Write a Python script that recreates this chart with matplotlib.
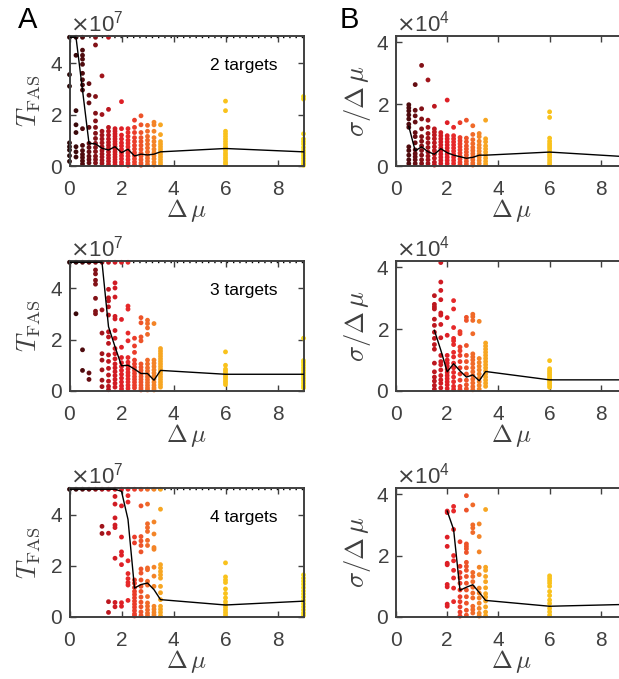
import numpy as np
import matplotlib
matplotlib.use("Agg")
import matplotlib.pyplot as plt
from matplotlib.ticker import ScalarFormatter

plt.rcParams['font.family'] = ['Liberation Sans', 'DejaVu Sans']
plt.rcParams['mathtext.fontset'] = 'cm'

nan = np.nan
DMU = [0.0, 0.25, 0.5, 0.75, 1.0, 1.25, 1.5, 1.75, 2.0, 2.25, 2.5, 2.75, 3.0, 3.25, 3.5, 6.0, 9.0]
COLORS = ['#2a0808', '#3a090b', '#4e0b0e', '#650d12', '#821117', '#a0141b', '#bc171f', '#d01b23',
          '#de1f26', '#e6292a', '#ea3c2a', '#ed5329', '#f06a29', '#f38427', '#f7a622', '#f9c21c', '#f8da18']
CAP = 5.0
T_SCALE = 1e7
S_SCALE = 1e4
TARGETS = ['2 targets', '3 targets', '4 targets']

# ---- 2 targets: T_FAS (x1e7) ----
A1_pts = [
    [5.0, 3.55, 3.1, 0.9, 0.75, 0.62, 0.4, 0.18],
    [5.0, 4.3, 2.15, 1.6, 1.3, 0.75, 0.55, 0.35],
    [5.0, 4.5, 4.3, 4.15, 3.95, 3.6, 3.35, 3.15, 2.95, 1.45, 0.8, 0.6, 0.45, 0.33, 0.2, 0.08],
    [3.2, 2.75, 2.45, 1.5, 0.88, 0.72, 0.55, 0.38, 0.25, 0.12],
    [5.0, 4.7, 2.7, 2.05, 1.75, 1.5, 1.27, 1.07, 0.88, 0.72, 0.56, 0.38, 0.25, 0.12],
    [3.5, 2.0, 1.35, 1.2, 1.05, 0.9, 0.75, 0.6, 0.47, 0.35, 0.22, 0.1],
    [5.0, 2.2, 1.5, 1.35, 1.2, 1.05, 0.92, 0.8, 0.68, 0.55, 0.42, 0.3, 0.18, 0.06],
    [1.45, 1.35, 1.25, 1.15, 1.05, 0.95, 0.85, 0.75, 0.65, 0.55, 0.45, 0.35, 0.25, 0.15, 0.05],
    [2.5, 1.45, 1.2, 1.05, 0.9, 0.78, 0.65, 0.52, 0.4, 0.28, 0.15, 0.05],
    [1.45, 1.3, 1.15, 1.0, 0.88, 0.75, 0.62, 0.5, 0.38, 0.25, 0.12, 0.03],
    [1.78, 1.5, 1.3, 1.1, 0.95, 0.8, 0.66, 0.52, 0.4, 0.28, 0.16, 0.05],
    [1.95, 1.6, 1.3, 1.1, 0.95, 0.8, 0.65, 0.5, 0.38, 0.25, 0.12, 0.03],
    [1.58, 1.35, 1.15, 1.0, 0.85, 0.7, 0.55, 0.42, 0.3, 0.18, 0.06],
    [1.7, 1.6, 1.35, 1.1, 0.95, 0.8, 0.65, 0.52, 0.4, 0.28, 0.15, 0.04],
    [1.6, 1.22, 0.95, 0.85, 0.75, 0.65, 0.55, 0.45, 0.35, 0.25, 0.15, 0.06],
    [2.52, 2.15, 1.35, 1.25, 1.15, 1.05, 0.95, 0.85, 0.75, 0.68, 0.6, 0.5, 0.42, 0.33, 0.25, 0.15, 0.08],
    [2.7, 2.6, 1.25, 1.05, 0.95, 0.85, 0.72, 0.6, 0.5, 0.4, 0.3, 0.2, 0.1, 0.03],
]
A1_line = [5.0, 5.0, 2.95, 0.88, 0.86, 0.69, 0.62, 0.75, 0.52, 0.65, 0.39, 0.46, 0.43, 0.46, 0.55, 0.68, 0.55]

# ---- 2 targets: sigma / dmu (x1e4) ----
B1_pts = [
    [], [],
    [1.98, 1.88, 1.78, 1.65, 1.52, 1.35, 1.25, 0.62, 0.5, 0.35, 0.2, 0.08],
    [2.63, 1.8, 1.62, 1.42, 1.08, 0.95, 0.75, 0.52, 0.4, 0.3, 0.2, 0.08],
    [3.25, 1.85, 1.52, 1.2, 0.95, 0.8, 0.65, 0.5, 0.35, 0.2, 0.08],
    [2.78, 1.48, 1.25, 1.05, 0.9, 0.75, 0.6, 0.45, 0.32, 0.2, 0.08],
    [1.93, 1.2, 1.1, 1.0, 0.88, 0.75, 0.62, 0.5, 0.38, 0.25, 0.12, 0.03],
    [1.08, 0.98, 0.88, 0.78, 0.68, 0.58, 0.48, 0.38, 0.28, 0.18, 0.08],
    [2.13, 1.4, 0.98, 0.88, 0.78, 0.68, 0.58, 0.48, 0.38, 0.28, 0.18, 0.08],
    [1.25, 0.98, 0.88, 0.78, 0.68, 0.58, 0.48, 0.38, 0.28, 0.18, 0.08],
    [1.4, 0.92, 0.82, 0.72, 0.62, 0.52, 0.42, 0.32, 0.22, 0.12, 0.04],
    [1.48, 0.9, 0.78, 0.65, 0.55, 0.45, 0.35, 0.25, 0.15, 0.06],
    [1.3, 1.02, 0.85, 0.72, 0.6, 0.5, 0.4, 0.3, 0.2, 0.1, 0.03],
    [1.05, 0.95, 0.8, 0.68, 0.58, 0.48, 0.38, 0.28, 0.18, 0.08],
    [1.48, 0.88, 0.78, 0.65, 0.55, 0.45, 0.35, 0.25, 0.15, 0.06],
    [1.75, 1.57, 0.9, 0.8, 0.72, 0.65, 0.58, 0.5, 0.42, 0.35, 0.28, 0.2, 0.12, 0.05],
    [],
]
B1_line = [nan, nan, 1.28, 0.49, 0.62, 0.46, 0.38, 0.56, 0.43, 0.35, 0.3, 0.25, 0.28, 0.35, 0.35, 0.45, 0.3]

# ---- 3 targets: T_FAS (x1e7) ----
A2_pts = [
    [5.0],
    [5.0, 3.0],
    [5.0, 1.6, 0.8],
    [5.0, 0.7, 0.45],
    [5.0, 4.7, 4.55, 4.3, 4.15, 3.6, 3.1, 3.0],
    [5.0, 3.15, 2.25, 1.45, 1.2, 0.82, 0.42, 0.17],
    [5.0, 3.95, 3.62, 3.5, 3.27, 2.95, 2.3, 2.1, 1.85, 1.4, 1.15, 0.88, 0.62, 0.38, 0.18, 0.05],
    [5.0, 4.2, 4.0, 3.65, 2.9, 2.8, 2.35, 2.05, 1.65, 1.45, 1.25, 1.05, 0.9, 0.75, 0.6, 0.45, 0.3, 0.15],
    [5.0, 2.78, 1.7, 1.3, 1.1, 0.95, 0.8, 0.65, 0.5, 0.35, 0.2, 0.08],
    [5.0, 3.3, 3.18, 2.25, 1.95, 1.3, 1.12, 0.98, 0.85, 0.72, 0.6, 0.47, 0.35, 0.22, 0.1],
    [2.05, 1.75, 1.5, 1.2, 1.05, 0.92, 0.8, 0.68, 0.56, 0.45, 0.34, 0.22, 0.12],
    [2.85, 2.65, 2.1, 1.95, 1.05, 0.92, 0.8, 0.68, 0.56, 0.45, 0.34, 0.22, 0.12, 0.04],
    [2.75, 2.62, 2.45, 2.2, 1.2, 1.05, 0.9, 0.78, 0.66, 0.55, 0.44, 0.33, 0.22, 0.12, 0.04],
    [2.62, 1.2, 1.08, 0.95, 0.82, 0.7, 0.58, 0.46, 0.34, 0.22, 0.12, 0.04],
    [1.65, 1.55, 1.45, 1.35, 1.25, 1.15, 1.05, 0.95, 0.85, 0.75, 0.65, 0.55, 0.45, 0.35, 0.25, 0.15],
    [1.52, 1.0, 0.85, 0.78, 0.7, 0.62, 0.55, 0.48, 0.4, 0.33, 0.25],
    [2.05, 1.18, 1.1, 1.0, 0.9, 0.8, 0.7, 0.6, 0.5, 0.4, 0.3, 0.2, 0.12],
]
A2_line = [5.0, 5.0, 5.0, 5.0, 5.0, 5.0, 2.5, 1.72, 0.98, 1.0, 0.85, 0.68, 0.68, 0.42, 0.8, 0.65, 0.65]

# ---- 3 targets: sigma / dmu (x1e4) ----
B2_pts = [
    [], [], [], [], [], [],
    [3.08, 2.8, 2.72, 2.65, 2.32, 2.12, 1.9, 1.7, 1.5, 1.35, 0.9, 0.62, 0.45, 0.32, 0.18, 0.06],
    [4.15, 3.52, 3.25, 2.95, 2.52, 2.45, 2.15, 1.72, 1.15, 0.95, 0.85, 0.68, 0.5, 0.36, 0.25, 0.1],
    [2.37, 1.8, 1.15, 1.0, 0.9, 0.8, 0.7, 0.6, 0.5, 0.4, 0.3, 0.2, 0.08],
    [2.92, 2.65, 2.05, 1.7, 1.62, 1.5, 1.25, 1.1, 0.9, 0.75, 0.6, 0.45, 0.3, 0.15, 0.05],
    [1.92, 1.85, 1.42, 1.3, 1.15, 0.95, 0.75, 0.55, 0.35, 0.15, 0.05],
    [2.38, 2.28, 1.47, 1.15, 0.95, 0.75, 0.55, 0.35, 0.2, 0.07],
    [2.48, 2.4, 2.28, 1.85, 1.2, 1.1, 1.0, 0.88, 0.75, 0.62, 0.5, 0.38, 0.26, 0.14, 0.04],
    [2.25, 1.05, 0.92, 0.8, 0.68, 0.55, 0.42, 0.3, 0.18, 0.06],
    [1.55, 1.45, 1.35, 1.25, 1.15, 1.05, 0.95, 0.85, 0.75, 0.65, 0.55, 0.45, 0.35, 0.25, 0.15],
    [0.98, 0.72, 0.66, 0.6, 0.54, 0.48, 0.42, 0.36, 0.3, 0.24, 0.18, 0.12],
    [],
]
B2_line = [nan, nan, nan, nan, nan, nan, 1.96, 1.32, 0.62, 0.88, 0.65, 0.45, 0.52, 0.33, 0.63, 0.36, 0.36]

# ---- 4 targets: T_FAS (x1e7) ----
A3_pts = [
    [5.0], [5.0], [5.0], [5.0], [5.0],
    [5.0, 3.55, 3.27],
    [5.0, 3.28, 0.6, 0.18],
    [5.0, 4.72, 4.42, 3.88, 3.6, 3.5, 2.3, 0.57, 0.4],
    [5.0, 4.35, 3.13, 2.55, 2.42, 2.05, 0.56, 0.42],
    [5.0, 4.75, 4.5, 2.2, 1.7, 1.5, 1.35, 1.25, 0.65],
    [5.0, 3.13, 2.9, 1.45, 1.32, 1.15, 1.0, 0.88, 0.75, 0.62, 0.5, 0.38, 0.25, 0.12, 0.04],
    [5.0, 4.35, 3.15, 2.98, 2.8, 2.55, 1.88, 1.72, 1.45, 1.2, 1.0, 0.78, 0.58, 0.4, 0.2, 0.06],
    [5.0, 4.42, 3.65, 3.5, 3.35, 3.0, 2.8, 1.92, 1.85, 1.4, 1.25, 0.8, 0.55, 0.42, 0.28, 0.15, 0.05],
    [5.0, 3.72, 3.25, 2.72, 2.65, 1.95, 1.6, 1.2, 0.42, 0.3, 0.18, 0.08],
    [5.0, 4.22, 2.05, 1.92, 1.78, 1.65, 1.52, 1.2, 0.95, 0.68, 0.42, 0.3, 0.18, 0.05],
    [2.12, 1.57, 1.45, 1.35, 1.1, 0.92, 0.75, 0.6, 0.48, 0.38, 0.28, 0.18, 0.08],
    [1.65, 1.52, 1.4, 1.28, 1.15, 1.02, 0.9, 0.78, 0.65, 0.52, 0.4, 0.28, 0.16, 0.06],
]
A3_line = [5.0, 5.0, 5.0, 5.0, 5.0, 5.0, 5.0, 5.0, 4.92, 3.82, 1.13, 1.27, 1.33, 1.07, 0.68, 0.47, 0.62]

# ---- 4 targets: sigma / dmu (x1e4) ----
B3_pts = [
    [], [], [], [], [], [], [], [],
    [3.45, 3.4, 2.6, 2.3, 1.75, 1.7, 1.06, 0.98, 0.42, 0.35],
    [3.6, 3.45, 2.85, 2.0, 1.83, 1.52, 1.27, 0.94, 0.5],
    [2.45, 1.65, 1.45, 1.28, 1.1, 0.88, 0.66, 0.5, 0.33, 0.16, 0.03],
    [3.95, 3.48, 2.38, 2.3, 2.22, 2.1, 1.78, 1.65, 1.52, 1.32, 1.1, 0.88, 0.66, 0.45, 0.22, 0.06],
    [3.65, 3.0, 2.9, 2.75, 1.45, 1.32, 1.15, 0.97, 0.78, 0.62, 0.35, 0.24, 0.13],
    [3.03, 2.62, 2.12, 1.62, 1.38, 0.94, 0.78, 0.62, 0.45, 0.28, 0.12, 0.03],
    [3.5, 1.62, 1.52, 1.32, 1.15, 0.95, 0.76, 0.65, 0.52, 0.33, 0.16, 0.04],
    [1.34, 1.26, 1.18, 1.1, 1.0, 0.83, 0.7, 0.55, 0.44, 0.28, 0.17, 0.06],
    [],
]
B3_line = [nan, nan, nan, nan, nan, nan, nan, nan, 3.45, 2.85, 0.87, 0.97, 1.05, 0.8, 0.54, 0.35, 0.41]

GRAY = '#404040'
W, H = 619, 679
fig = plt.figure(figsize=(W / 100, H / 100), dpi=100)

rows_px = [(36, 166), (261, 391), (488, 617)]
left_A, width_A = 69.5, 234.0
left_B, width_B = 396.0, 230.4

A_sets = [(A1_pts, A1_line), (A2_pts, A2_line), (A3_pts, A3_line)]
B_sets = [(B1_pts, B1_line), (B2_pts, B2_line), (B3_pts, B3_line)]


def style(ax, scale, ymax, ylabel, ylabel_x):
    ax.set_xlim(0, 9)
    ax.set_ylim(0, ymax * scale)
    ax.set_xticks([0, 2, 4, 6, 8])
    ax.set_yticks([0, 2 * scale, 4 * scale])
    fmt = ScalarFormatter(useMathText=True)
    fmt.set_powerlimits((0, 0))
    ax.yaxis.set_major_formatter(fmt)
    ax.yaxis.offsetText.set_fontsize(16)
    ax.yaxis.offsetText.set_color(GRAY)
    ax.yaxis.offsetText.set_math_fontfamily('dejavusans')
    ax.tick_params(direction='in', length=4, width=1.0, colors=GRAY, labelsize=15,
                   top=True, right=True)
    ax.tick_params(axis='x', pad=10)
    ax.tick_params(axis='y', pad=5)
    for sp in ax.spines.values():
        sp.set_color(GRAY)
        sp.set_linewidth(1.4)
    ax.set_xlabel(r'$\Delta\,\mu$', fontsize=18, color=GRAY, va='center')
    ax.xaxis.set_label_coords(0.5, -0.345)
    ax.set_ylabel(ylabel, fontsize=19, color=GRAY, va='center')
    ax.yaxis.set_label_coords(ylabel_x, 0.5)


def draw(ax, pts, line, scale):
    for x, ys, c in zip(DMU, pts, COLORS):
        if ys:
            ax.scatter([x] * len(ys), np.array(ys) * scale, s=12, color=c,
                       edgecolors='none', zorder=2, clip_on=False)
    ax.plot(DMU, np.array(line) * scale, color='black', lw=1.0, zorder=3)


for i, (top, bot) in enumerate(rows_px):
    b = (H - bot) / H
    h = (bot - top) / H
    axA = fig.add_axes([left_A / W, b, width_A / W, h])
    pts, line = A_sets[i]
    draw(axA, pts, line, T_SCALE)
    axA.axhline(CAP * T_SCALE, color='black', lw=1.0, ls=(0, (1, 3.5)), zorder=1)
    style(axA, T_SCALE, 5.05, r'$T_{\rm FAS}$', -0.175)
    axA.text(0.89, 0.775, TARGETS[i], transform=axA.transAxes, ha='right', va='center',
             fontsize=12.5, color='black')

    axB = fig.add_axes([left_B / W, b, width_B / W, h])
    pts, line = B_sets[i]
    draw(axB, pts, line, S_SCALE)
    style(axB, S_SCALE, 4.2, r'$\sigma/\Delta\,\mu$', -0.165)

fig.text(18 / W, 1 - 20 / H, 'A', fontsize=21, ha='left', va='center', color='black')
fig.text(340 / W, 1 - 20 / H, 'B', fontsize=21, ha='left', va='center', color='black')

fig.savefig('out.png', dpi=100)
